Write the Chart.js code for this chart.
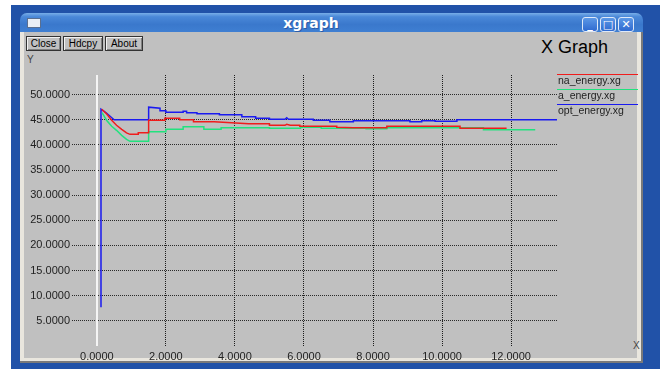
<!DOCTYPE html>
<html>
<head>
<meta charset="utf-8">
<title>xgraph</title>
<script src="https://cdn.jsdelivr.net/npm/chart.js@4.4.0/dist/chart.umd.min.js"></script>
<style>
  body { margin: 0; width: 660px; height: 369px; background: #ffffff; overflow: hidden; position: relative; font-family: "Liberation Sans", Arial, sans-serif; }
  #desk { position: absolute; left: 11px; top: 5px; width: 649px; height: 364px; background: #2152a8; }
  #frame { position: absolute; left: 20px; top: 30px; width: 621px; height: 331px; background: #e9e6de; border-right: 2px solid #7a7a7a; border-bottom: 2px solid #7a7a7a; }
  #client { position: absolute; left: 24px; top: 32px; width: 613px; height: 326px; background: #c0c0c0; }
  #titlebar { position: absolute; left: 20px; top: 13px; width: 623px; height: 19px; border-radius: 7px 7px 0 0;
    background: linear-gradient(#78aee8 0%, #4a88d8 20%, #3a78cc 60%, #3f7fd2 100%); }
  #titletext { position: absolute; top: 15px; text-align: center; color: #fff;
    font: bold 14px "DejaVu Sans", sans-serif; left: 40px; width: 542px; text-shadow: 1px 1px 0 #2a5ca8; }
  #icon { position: absolute; left: 27px; top: 18px; width: 12px; height: 8px; background: #e8eef6; border: 1px solid #5a6f90; }
  .wbtn { position: absolute; top: 17px; width: 14px; height: 13px; border: 1px solid #dfe9f8; border-radius: 3px;
    background: linear-gradient(#5c98e6, #2f6ad0); color: #fff; font: bold 11px "DejaVu Sans", sans-serif; text-align: center; line-height: 13px; }
  .btn { position: absolute; top: 36px; height: 13px; border: 1px solid #333; box-shadow: inset 1px 1px 0 #f2f2f2, inset -1px -1px 0 #808080;
    background: #c0c0c0; font: 10px "Liberation Sans", Arial, sans-serif; line-height: 13px; text-align: center; color: #000; }
  #graph { position: absolute; left: 0; top: 0; }
  .lbl { position: absolute; color: #222; font: 10.5px "Liberation Sans", Arial, sans-serif; white-space: nowrap; }
  .legline { position: absolute; left: 557px; width: 81px; height: 1px; }
</style>
</head>
<body>
<div id="desk"></div>
<div id="frame"></div>
<div id="client"></div>
<div id="titlebar"></div>
<div id="icon"></div>
<div id="titletext">xgraph</div>
<div class="wbtn" style="left:582px">_</div>
<div class="wbtn" style="left:600px">□</div>
<div class="wbtn" style="left:618px">✕</div>
<div class="btn" style="left:26px;width:33px">Close</div>
<div class="btn" style="left:63px;width:38px">Hdcpy</div>
<div class="btn" style="left:105px;width:36px">About</div>
<div class="lbl" style="left:27px;top:54px;font-size:10px;color:#444">Y</div>
<div class="lbl" style="left:541px;top:37px;font-size:18px;color:#000">X Graph</div>
<div class="lbl" style="left:633px;top:340px;font-size:10px;color:#444">X</div>
<canvas id="graph" width="660" height="369"></canvas>
<div id="legend"></div>
<script>
// series
const seriesNames = ["na_energy.xg", "a_energy.xg", "opt_energy.xg"];
const seriesColors = ["#f01c1c", "#22e27e", "#1a1af0"];

const naX = [0.14, 0.28, 0.43, 0.57, 0.72, 0.86, 0.96, 1.2, 1.2, 1.49, 1.5, 1.97, 1.97, 2.4, 2.4, 2.8, 2.8, 3.4, 3.9, 4.4, 5.0, 5.0, 5.45, 5.5, 5.6, 5.88, 5.88, 6.95, 6.95, 7.43, 8.4, 8.4, 10.52, 10.52, 11.87];
const naY = [47.1, 46.2, 44.9, 43.9, 43.1, 42.4, 42.1, 42.1, 42.4, 42.4, 44.9, 44.9, 45.3, 45.3, 45.0, 45.0, 44.6, 44.6, 44.4, 44.2, 44.2, 43.9, 43.9, 44.1, 43.9, 43.9, 43.7, 43.7, 43.5, 43.4, 43.4, 43.7, 43.7, 43.3, 43.3];

const aX = [0.15, 0.28, 0.43, 0.57, 0.72, 0.86, 0.96, 1.49, 1.5, 2.0, 2.0, 2.5, 2.5, 3.1, 3.1, 3.6, 3.6, 5.0, 5.0, 5.9, 5.9, 6.5, 6.5, 7.8, 7.8, 8.4, 8.4, 11.2, 11.2, 12.7];
const aY = [46.4, 44.9, 43.7, 42.9, 41.9, 41.1, 40.7, 40.7, 42.6, 42.6, 43.1, 43.1, 43.6, 43.6, 43.1, 43.1, 43.4, 43.4, 43.3, 43.3, 43.5, 43.5, 43.3, 43.3, 43.2, 43.2, 43.4, 43.4, 43.0, 43.0];

const optX = [0.12, 0.12, 0.26, 0.4, 0.5, 1.49, 1.5, 1.83, 1.83, 2.0, 2.0, 2.5, 2.5, 2.6, 2.6, 2.9, 2.9, 3.55, 3.55, 4.2, 4.2, 4.6, 4.6, 5.0, 5.0, 5.45, 5.5, 5.55, 6.27, 6.27, 6.75, 6.75, 7.43, 7.43, 9.07, 9.07, 9.41, 9.41, 9.8, 9.8, 10.43, 10.43, 13.4];
const optY = [7.7, 47.1, 46.4, 45.6, 45.0, 45.0, 47.5, 47.3, 46.8, 46.8, 46.5, 46.5, 46.7, 46.7, 46.4, 46.4, 46.2, 46.2, 46.0, 46.0, 45.6, 45.6, 45.3, 45.3, 45.1, 45.1, 45.4, 45.1, 45.1, 44.9, 44.9, 44.6, 44.6, 44.8, 44.8, 44.6, 44.6, 44.8, 44.8, 44.7, 44.7, 45.0, 45.0];

const xTicks = [0, 2, 4, 6, 8, 10, 12];
const yTicks = [5, 10, 15, 20, 25, 30, 35, 40, 45, 50];

const toPoints = (xs, ys) => xs.map((x, i) => ({ x: x, y: ys[i] }));
const seriesData = [toPoints(naX, naY), toPoints(aX, aY), toPoints(optX, optY)];

// white zero axis line
const zeroLine = {
    id: "zeroLine",
    beforeDatasetsDraw(chart) {
        const { ctx, chartArea, scales } = chart;
        const px = Math.round(scales.x.getPixelForValue(0));
        ctx.save();
        ctx.strokeStyle = "#f4f4f4";
        ctx.lineWidth = 2;
        ctx.beginPath();
        ctx.moveTo(px, chartArea.top);
        ctx.lineTo(px, chartArea.bottom);
        ctx.stroke();
        ctx.restore();
    }
};

const tickFont = { family: "Liberation Sans", size: 11 };

new Chart(document.getElementById("graph").getContext("2d"), {
    type: "scatter",
    data: {
        datasets: seriesNames.map((name, i) => ({
            label: name,
            data: seriesData[i],
            showLine: true,
            borderColor: seriesColors[i],
            backgroundColor: seriesColors[i],
            borderWidth: 1.5,
            pointRadius: 0,
            tension: 0
        }))
    },
    options: {
        responsive: false,
        animation: false,
        devicePixelRatio: 1,
        layout: { padding: { left: 0, top: 75, right: 103, bottom: 0 } },
        plugins: { legend: { display: false }, tooltip: { enabled: false } },
        scales: {
            x: {
                type: "linear",
                min: -0.72,
                max: 13.33,
                afterBuildTicks: s => { s.ticks = xTicks.map(v => ({ value: v })); },
                afterFit: s => { s.height = 23; },
                ticks: { callback: v => v.toFixed(4), font: tickFont, color: "#222", padding: 4, maxRotation: 0, autoSkip: false },
                grid: { color: c => (c.tick && c.tick.value === 0) ? "rgba(0,0,0,0)" : "#1c1c1c", drawTicks: false, lineWidth: 1 },
                border: { display: false, dash: [1, 1] }
            },
            y: {
                min: 0,
                max: 53.9,
                afterBuildTicks: s => { s.ticks = yTicks.map(v => ({ value: v })); },
                afterFit: s => { s.width = 72; },
                ticks: { callback: v => v.toFixed(4), font: tickFont, color: "#222", padding: 2, autoSkip: false },
                grid: { color: "#2a2a2a", drawTicks: false, lineWidth: 1 },
                border: { display: false, dash: [1, 1] }
            }
        }
    },
    plugins: [zeroLine]
});

// xgraph style legend: coloured line over each name
const legend = document.getElementById("legend");
const legendTop = [74, 89, 104];
seriesNames.forEach((name, i) => {
    const line = document.createElement("div");
    line.className = "legline";
    line.style.top = legendTop[i] + "px";
    line.style.background = seriesColors[i];
    legend.appendChild(line);
    const txt = document.createElement("div");
    txt.className = "lbl";
    txt.style.left = "558px";
    txt.style.top = legendTop[i] + "px";
    txt.textContent = name;
    legend.appendChild(txt);
});
</script>
</body>
</html>
